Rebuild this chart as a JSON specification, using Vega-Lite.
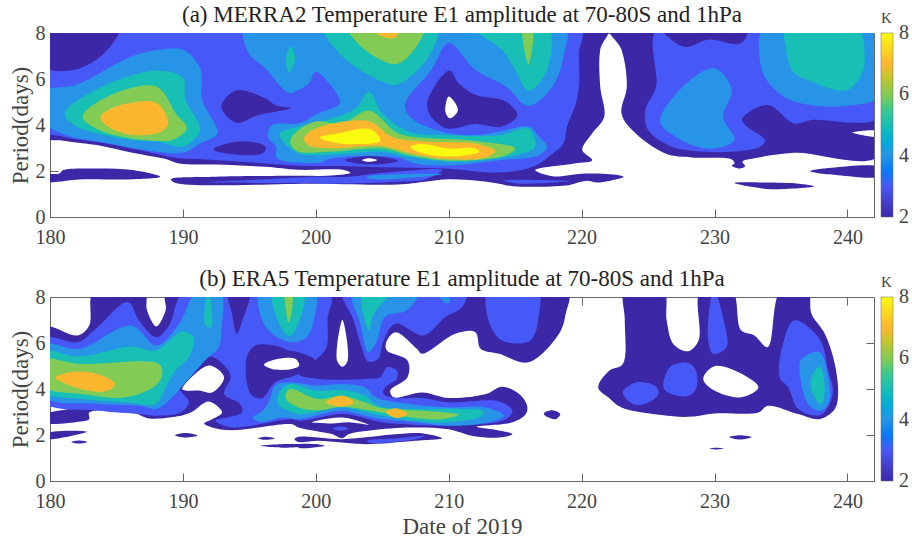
{"$schema":"https://vega.github.io/schema/vega-lite/v6.json","padding":{"left":9,"top":4,"right":5,"bottom":0},"background":"white","spacing":21,"config":{"view":{"stroke":null},"font":"Liberation Serif","title":{"font":"Liberation Serif","fontSize":23,"fontWeight":"normal","color":"#222222","offset":-16},"axis":{"labelFont":"Liberation Serif","titleFont":"Liberation Serif","labelFontSize":20,"titleFontSize":23,"titleFontWeight":"normal","labelColor":"#444444","titleColor":"#444444","domainColor":"#666666","tickColor":"#666666","grid":false,"tickSize":-8,"labelFlush":false},"axisX":{"labelPadding":18},"axisY":{"labelPadding":13},"legend":{"labelFont":"Liberation Serif","titleFont":"Liberation Serif"}},"resolve":{"scale":{"fill":"independent"},"legend":{"fill":"independent"}},"vconcat":[{"width":824,"height":184,"title":"(a) MERRA2 Temperature E1 amplitude at 70-80S and 1hPa","data":{"values":[
{"b":"a1","v":2,"x":179.5,"y":8.3},{"b":"a1","v":2,"x":222,"y":8.3},{"b":"a1","v":2,"x":221.4,"y":7.27},{"b":"a1","v":2,"x":221.4,"y":5.67},{"b":"a1","v":2,"x":221.7,"y":4.36},{"b":"a1","v":2,"x":220.8,"y":3.64},{"b":"a1","v":2,"x":220.05,"y":2.91},{"b":"a1","v":2,"x":220.8,"y":2.47},{"b":"a1","v":2,"x":219.5,"y":2.33},{"b":"a1","v":2,"x":216.5,"y":2.04},{"b":"a1","v":2,"x":217.8,"y":1.77},{"b":"a1","v":2,"x":220.3,"y":1.89},{"b":"a1","v":2,"x":222.8,"y":1.82},{"b":"a1","v":2,"x":223.16,"y":1.75},{"b":"a1","v":2,"x":221.25,"y":1.5},{"b":"a1","v":2,"x":220.3,"y":1.57},{"b":"a1","v":2,"x":218.8,"y":1.37},{"b":"a1","v":2,"x":214.8,"y":1.34},{"b":"a1","v":2,"x":213.8,"y":1.45},{"b":"a1","v":2,"x":212.3,"y":1.57},{"b":"a1","v":2,"x":210,"y":1.64},{"b":"a1","v":2,"x":208.2,"y":1.53},{"b":"a1","v":2,"x":206.2,"y":1.41},{"b":"a1","v":2,"x":200.2,"y":1.45},{"b":"a1","v":2,"x":189.45,"y":1.48},{"b":"a1","v":2,"x":189.1,"y":1.64},{"b":"a1","v":2,"x":192.45,"y":1.75},{"b":"a1","v":2,"x":198.7,"y":1.79},{"b":"a1","v":2,"x":201.2,"y":1.8},{"b":"a1","v":2,"x":202.6,"y":1.92},{"b":"a1","v":2,"x":202,"y":2.05},{"b":"a1","v":2,"x":198.7,"y":2.05},{"b":"a1","v":2,"x":196.2,"y":2.18},{"b":"a1","v":2,"x":192.45,"y":2.28},{"b":"a1","v":2,"x":189.7,"y":2.33},{"b":"a1","v":2,"x":188.7,"y":2.52},{"b":"a1","v":2,"x":186.2,"y":2.79},{"b":"a1","v":2,"x":183.7,"y":3.11},{"b":"a1","v":2,"x":181,"y":3.32},{"b":"a1","v":2,"x":179.5,"y":3.5},
{"b":"a2","v":2,"x":179.5,"y":1.56},{"b":"a2","v":2,"x":179.5,"y":1.83},{"b":"a2","v":2,"x":180.7,"y":1.89},{"b":"a2","v":2,"x":181,"y":2.04},{"b":"a2","v":2,"x":183.2,"y":2.11},{"b":"a2","v":2,"x":186.2,"y":2.04},{"b":"a2","v":2,"x":188.3,"y":1.75},{"b":"a2","v":2,"x":186.2,"y":1.64},{"b":"a2","v":2,"x":182.5,"y":1.64},
{"b":"a3","v":2,"x":237.2,"y":1.99},{"b":"a3","v":2,"x":238.8,"y":2.14},{"b":"a3","v":2,"x":242.5,"y":2.15},{"b":"a3","v":2,"x":242.5,"y":1.79},{"b":"a3","v":2,"x":239.3,"y":1.82},
{"b":"a4","v":2,"x":231.5,"y":1.48},{"b":"a4","v":2,"x":233.8,"y":1.5},{"b":"a4","v":2,"x":236.3,"y":1.45},{"b":"a4","v":2,"x":237.5,"y":1.34},{"b":"a4","v":2,"x":234.3,"y":1.21},{"b":"a4","v":2,"x":232.8,"y":1.31},
{"b":"a5","v":2,"x":222,"y":8.3},{"b":"a5","v":2,"x":223,"y":7.27},{"b":"a5","v":2,"x":223.4,"y":5.67},{"b":"a5","v":2,"x":223,"y":4.51},{"b":"a5","v":2,"x":223.8,"y":3.78},{"b":"a5","v":2,"x":226.3,"y":2.76},{"b":"a5","v":2,"x":228.3,"y":2.59},{"b":"a5","v":2,"x":231.3,"y":2.5},{"b":"a5","v":2,"x":231.5,"y":2.33},{"b":"a5","v":2,"x":231.3,"y":2.24},{"b":"a5","v":2,"x":231.9,"y":2.11},{"b":"a5","v":2,"x":232.3,"y":2.21},{"b":"a5","v":2,"x":232.1,"y":2.4},{"b":"a5","v":2,"x":233,"y":2.55},{"b":"a5","v":2,"x":236,"y":2.79},{"b":"a5","v":2,"x":242.5,"y":2.69},{"b":"a5","v":2,"x":242.5,"y":8.3},
{"b":"a6","v":3,"x":179.5,"y":8.3},{"b":"a6","v":3,"x":219.9,"y":8.3},{"b":"a6","v":3,"x":219.8,"y":7.13},{"b":"a6","v":3,"x":219.8,"y":5.67},{"b":"a6","v":3,"x":219.5,"y":4.8},{"b":"a6","v":3,"x":218.9,"y":3.93},{"b":"a6","v":3,"x":218.65,"y":3.2},{"b":"a6","v":3,"x":218,"y":2.84},{"b":"a6","v":3,"x":216.3,"y":2.18},{"b":"a6","v":3,"x":213.8,"y":1.93},{"b":"a6","v":3,"x":210,"y":2.1},{"b":"a6","v":3,"x":206.2,"y":2.15},{"b":"a6","v":3,"x":202.5,"y":2.21},{"b":"a6","v":3,"x":198.7,"y":2.23},{"b":"a6","v":3,"x":196.2,"y":2.33},{"b":"a6","v":3,"x":191.7,"y":2.5},{"b":"a6","v":3,"x":189.7,"y":2.55},{"b":"a6","v":3,"x":186.7,"y":2.91},{"b":"a6","v":3,"x":184.2,"y":3.2},{"b":"a6","v":3,"x":181,"y":3.49},{"b":"a6","v":3,"x":179.5,"y":3.78},
{"b":"a7","v":3,"x":225.8,"y":8.3},{"b":"a7","v":3,"x":225.6,"y":5.67},{"b":"a7","v":3,"x":224.8,"y":4.65},{"b":"a7","v":3,"x":225,"y":3.78},{"b":"a7","v":3,"x":226.8,"y":3.05},{"b":"a7","v":3,"x":228.3,"y":2.88},{"b":"a7","v":3,"x":231.3,"y":2.84},{"b":"a7","v":3,"x":233.5,"y":3.08},{"b":"a7","v":3,"x":233.8,"y":3.35},{"b":"a7","v":3,"x":232.3,"y":4},{"b":"a7","v":3,"x":232.1,"y":4.29},{"b":"a7","v":3,"x":234,"y":4.87},{"b":"a7","v":3,"x":236,"y":4.07},{"b":"a7","v":3,"x":237.3,"y":4.22},{"b":"a7","v":3,"x":242.5,"y":4.36},{"b":"a7","v":3,"x":242.5,"y":8.3},
{"b":"a8","v":2,"x":179.5,"y":8.3},{"b":"a8","v":2,"x":185.2,"y":8.3},{"b":"a8","v":2,"x":184.45,"y":7.35},{"b":"a8","v":2,"x":182.1,"y":6.44},{"b":"a8","v":2,"x":179.5,"y":6.55},
{"b":"a9","v":2,"x":225.9,"y":8.3},{"b":"a9","v":2,"x":226.9,"y":7.64},{"b":"a9","v":2,"x":227.9,"y":7.39},{"b":"a9","v":2,"x":229.5,"y":7.71},{"b":"a9","v":2,"x":232,"y":7.56},{"b":"a9","v":2,"x":232.5,"y":8.3},
{"b":"a10","v":2,"x":192.9,"y":4.8},{"b":"a10","v":2,"x":194,"y":5.5},{"b":"a10","v":2,"x":196.2,"y":5.16},{"b":"a10","v":2,"x":196.95,"y":4.87},{"b":"a10","v":2,"x":198.1,"y":4.73},{"b":"a10","v":2,"x":196.95,"y":4.58},{"b":"a10","v":2,"x":195.7,"y":4.44},{"b":"a10","v":2,"x":194,"y":4.1},
{"b":"a11","v":2,"x":192.3,"y":2.94},{"b":"a11","v":2,"x":194,"y":3.27},{"b":"a11","v":2,"x":195.95,"y":3.16},{"b":"a11","v":2,"x":196.25,"y":2.98},{"b":"a11","v":2,"x":195.95,"y":2.76},{"b":"a11","v":2,"x":193.7,"y":2.73},
{"b":"a12","v":2,"x":210.05,"y":6.37},{"b":"a12","v":2,"x":208.4,"y":5.02},{"b":"a12","v":2,"x":208.6,"y":4.44},{"b":"a12","v":2,"x":209.9,"y":3.85},{"b":"a12","v":2,"x":212,"y":4.04},{"b":"a12","v":2,"x":214,"y":3.93},{"b":"a12","v":2,"x":215.15,"y":4.44},{"b":"a12","v":2,"x":214.3,"y":5.02},{"b":"a12","v":2,"x":212,"y":5.31},{"b":"a12","v":2,"x":210.75,"y":5.82},
{"b":"a13","v":3,"x":191.7,"y":1.51},{"b":"a13","v":3,"x":196.2,"y":1.64},{"b":"a13","v":3,"x":200,"y":1.75},{"b":"a13","v":3,"x":202.5,"y":1.75},{"b":"a13","v":3,"x":205,"y":1.92},{"b":"a13","v":3,"x":209.5,"y":2.04},{"b":"a13","v":3,"x":208.2,"y":1.63},{"b":"a13","v":3,"x":206.2,"y":1.53},{"b":"a13","v":3,"x":201.2,"y":1.45},{"b":"a13","v":3,"x":198.7,"y":1.48},{"b":"a13","v":3,"x":196.2,"y":1.48},
{"b":"a14","v":3,"x":214.1,"y":1.59},{"b":"a14","v":3,"x":219.2,"y":1.56},{"b":"a14","v":3,"x":215.3,"y":1.45},
{"b":"a15","v":4,"x":203.85,"y":1.75},{"b":"a15","v":4,"x":206.2,"y":1.86},{"b":"a15","v":4,"x":209.5,"y":1.86},{"b":"a15","v":4,"x":207,"y":1.7},{"b":"a15","v":4,"x":204,"y":1.67},
{"b":"a16","v":4,"x":179.5,"y":5.45},{"b":"a16","v":4,"x":182,"y":5.75},{"b":"a16","v":4,"x":186,"y":6.95},{"b":"a16","v":4,"x":188.2,"y":7.27},{"b":"a16","v":4,"x":190,"y":7.27},{"b":"a16","v":4,"x":191.3,"y":6.47},{"b":"a16","v":4,"x":191.45,"y":5.09},{"b":"a16","v":4,"x":192.6,"y":3.64},{"b":"a16","v":4,"x":191.3,"y":3.2},{"b":"a16","v":4,"x":190,"y":2.79},{"b":"a16","v":4,"x":188,"y":2.84},{"b":"a16","v":4,"x":184.45,"y":3.2},{"b":"a16","v":4,"x":181.2,"y":3.56},{"b":"a16","v":4,"x":179.5,"y":4.15},
{"b":"a17","v":4,"x":194.7,"y":8.3},{"b":"a17","v":4,"x":218.7,"y":8.3},{"b":"a17","v":4,"x":218.7,"y":7.13},{"b":"a17","v":4,"x":217.8,"y":5.67},{"b":"a17","v":4,"x":216,"y":4.83},{"b":"a17","v":4,"x":214.3,"y":5.67},{"b":"a17","v":4,"x":212,"y":6.4},{"b":"a17","v":4,"x":210,"y":7.56},{"b":"a17","v":4,"x":208.7,"y":6.4},{"b":"a17","v":4,"x":206.7,"y":4.87},{"b":"a17","v":4,"x":207.2,"y":4.29},{"b":"a17","v":4,"x":209.5,"y":3.71},{"b":"a17","v":4,"x":211.8,"y":3.56},{"b":"a17","v":4,"x":213.8,"y":3.71},{"b":"a17","v":4,"x":216,"y":3.93},{"b":"a17","v":4,"x":216.8,"y":3.49},{"b":"a17","v":4,"x":217.4,"y":3.05},{"b":"a17","v":4,"x":216.8,"y":2.69},{"b":"a17","v":4,"x":213.8,"y":2.47},{"b":"a17","v":4,"x":210,"y":2.24},{"b":"a17","v":4,"x":207.5,"y":2.33},{"b":"a17","v":4,"x":206.2,"y":2.59},{"b":"a17","v":4,"x":203.7,"y":2.65},{"b":"a17","v":4,"x":201.2,"y":2.55},{"b":"a17","v":4,"x":200.2,"y":2.37},{"b":"a17","v":4,"x":197.1,"y":2.55},{"b":"a17","v":4,"x":197,"y":3.05},{"b":"a17","v":4,"x":196.4,"y":3.49},{"b":"a17","v":4,"x":196.7,"y":4},{"b":"a17","v":4,"x":198.7,"y":4.07},{"b":"a17","v":4,"x":200.2,"y":4.51},{"b":"a17","v":4,"x":201.8,"y":4.95},{"b":"a17","v":4,"x":201.2,"y":5.67},{"b":"a17","v":4,"x":199.95,"y":6.33},{"b":"a17","v":4,"x":199.5,"y":5.82},{"b":"a17","v":4,"x":198.7,"y":5.53},{"b":"a17","v":4,"x":198,"y":5.38},{"b":"a17","v":4,"x":196.2,"y":6.47},{"b":"a17","v":4,"x":194.95,"y":7.13},
{"b":"a18","v":4,"x":233.8,"y":8.3},{"b":"a18","v":4,"x":233.5,"y":6.55},{"b":"a18","v":4,"x":234.3,"y":5.67},{"b":"a18","v":4,"x":236,"y":5.02},{"b":"a18","v":4,"x":239.8,"y":4.83},{"b":"a18","v":4,"x":242.5,"y":5.3},{"b":"a18","v":4,"x":242.5,"y":8.3},
{"b":"a19","v":4,"x":230,"y":6.47},{"b":"a19","v":4,"x":231.3,"y":5.53},{"b":"a19","v":4,"x":230.65,"y":4.36},{"b":"a19","v":4,"x":231.5,"y":3.35},{"b":"a19","v":4,"x":230,"y":2.98},{"b":"a19","v":4,"x":228.3,"y":3.13},{"b":"a19","v":4,"x":226,"y":4},{"b":"a19","v":4,"x":226,"y":4.44},{"b":"a19","v":4,"x":227.9,"y":5.82},
{"b":"a20","v":5,"x":181.1,"y":4.5},{"b":"a20","v":5,"x":183.45,"y":5.53},{"b":"a20","v":5,"x":188,"y":6.37},{"b":"a20","v":5,"x":190,"y":6.04},{"b":"a20","v":5,"x":190.2,"y":5.09},{"b":"a20","v":5,"x":191.3,"y":3.78},{"b":"a20","v":5,"x":190,"y":3.05},{"b":"a20","v":5,"x":188.2,"y":3.27},{"b":"a20","v":5,"x":186,"y":3.35},{"b":"a20","v":5,"x":182,"y":3.93},
{"b":"a21","v":5,"x":200.6,"y":8.3},{"b":"a21","v":5,"x":202,"y":6.98},{"b":"a21","v":5,"x":205,"y":5.89},{"b":"a21","v":5,"x":206.1,"y":5.75},{"b":"a21","v":5,"x":208.5,"y":6.98},{"b":"a21","v":5,"x":209.1,"y":8.3},
{"b":"a22","v":5,"x":198.1,"y":7.42},{"b":"a22","v":5,"x":198.45,"y":6.9},{"b":"a22","v":5,"x":198,"y":6.28},{"b":"a22","v":5,"x":197.75,"y":6.84},
{"b":"a23","v":5,"x":211.7,"y":8.3},{"b":"a23","v":5,"x":214,"y":7.27},{"b":"a23","v":5,"x":215,"y":6.4},{"b":"a23","v":5,"x":216,"y":5.48},{"b":"a23","v":5,"x":217.4,"y":6.4},{"b":"a23","v":5,"x":217.4,"y":8.3},
{"b":"a24","v":5,"x":235.4,"y":8.3},{"b":"a24","v":5,"x":235.4,"y":7.27},{"b":"a24","v":5,"x":235.9,"y":6.33},{"b":"a24","v":5,"x":237.3,"y":5.89},{"b":"a24","v":5,"x":239.9,"y":5.5},{"b":"a24","v":5,"x":241.05,"y":6.18},{"b":"a24","v":5,"x":241.3,"y":6.98},{"b":"a24","v":5,"x":240.7,"y":8.3},
{"b":"a25","v":5,"x":197.3,"y":3.64},{"b":"a25","v":5,"x":198.7,"y":3.93},{"b":"a25","v":5,"x":201.2,"y":4.29},{"b":"a25","v":5,"x":203,"y":4.73},{"b":"a25","v":5,"x":204,"y":5.45},{"b":"a25","v":5,"x":205,"y":4.51},{"b":"a25","v":5,"x":207,"y":3.71},{"b":"a25","v":5,"x":209.75,"y":3.56},{"b":"a25","v":5,"x":213.8,"y":3.55},{"b":"a25","v":5,"x":216,"y":3.85},{"b":"a25","v":5,"x":216.5,"y":3.35},{"b":"a25","v":5,"x":216.4,"y":2.98},{"b":"a25","v":5,"x":215,"y":2.69},{"b":"a25","v":5,"x":212.5,"y":2.47},{"b":"a25","v":5,"x":210,"y":2.4},{"b":"a25","v":5,"x":207,"y":2.62},{"b":"a25","v":5,"x":205,"y":2.84},{"b":"a25","v":5,"x":202.5,"y":2.76},{"b":"a25","v":5,"x":200,"y":2.69},{"b":"a25","v":5,"x":198.7,"y":2.76},{"b":"a25","v":5,"x":197.45,"y":3.35},
{"b":"a26","v":6,"x":182.45,"y":4.36},{"b":"a26","v":6,"x":184.2,"y":5.2},{"b":"a26","v":6,"x":188,"y":5.67},{"b":"a26","v":6,"x":189.45,"y":4.51},{"b":"a26","v":6,"x":190.3,"y":3.85},{"b":"a26","v":6,"x":189.2,"y":3.35},{"b":"a26","v":6,"x":187.7,"y":3.32},{"b":"a26","v":6,"x":186,"y":3.42},{"b":"a26","v":6,"x":183.7,"y":3.78},
{"b":"a27","v":6,"x":202.4,"y":8.3},{"b":"a27","v":6,"x":203.7,"y":7.27},{"b":"a27","v":6,"x":206,"y":6.65},{"b":"a27","v":6,"x":207.2,"y":7.13},{"b":"a27","v":6,"x":208.1,"y":8.3},
{"b":"a28","v":6,"x":215.6,"y":8.3},{"b":"a28","v":6,"x":216,"y":6.62},{"b":"a28","v":6,"x":216.3,"y":8.3},
{"b":"a29","v":6,"x":198.1,"y":3.35},{"b":"a29","v":6,"x":198.7,"y":3.78},{"b":"a29","v":6,"x":200,"y":4.15},{"b":"a29","v":6,"x":202,"y":4.07},{"b":"a29","v":6,"x":204,"y":4.63},{"b":"a29","v":6,"x":206.2,"y":3.64},{"b":"a29","v":6,"x":208.7,"y":3.42},{"b":"a29","v":6,"x":211.3,"y":3.35},{"b":"a29","v":6,"x":215,"y":2.98},{"b":"a29","v":6,"x":214.3,"y":2.69},{"b":"a29","v":6,"x":211.8,"y":2.47},{"b":"a29","v":6,"x":209.5,"y":2.47},{"b":"a29","v":6,"x":207,"y":2.69},{"b":"a29","v":6,"x":205,"y":2.98},{"b":"a29","v":6,"x":201.2,"y":2.84},{"b":"a29","v":6,"x":198.7,"y":2.84},{"b":"a29","v":6,"x":198.2,"y":3.05},
{"b":"a30","v":7,"x":183.8,"y":4.36},{"b":"a30","v":7,"x":184.95,"y":4.8},{"b":"a30","v":7,"x":185.95,"y":4.95},{"b":"a30","v":7,"x":188,"y":4.97},{"b":"a30","v":7,"x":188.9,"y":4.07},{"b":"a30","v":7,"x":188.2,"y":3.67},{"b":"a30","v":7,"x":185.95,"y":3.59},{"b":"a30","v":7,"x":184.2,"y":4},
{"b":"a31","v":7,"x":199.1,"y":3.42},{"b":"a31","v":7,"x":200,"y":3.85},{"b":"a31","v":7,"x":204,"y":4.17},{"b":"a31","v":7,"x":205.7,"y":3.49},{"b":"a31","v":7,"x":208.7,"y":3.27},{"b":"a31","v":7,"x":212,"y":3.2},{"b":"a31","v":7,"x":213.5,"y":2.87},{"b":"a31","v":7,"x":212.8,"y":2.59},{"b":"a31","v":7,"x":209.75,"y":2.52},{"b":"a31","v":7,"x":207.2,"y":2.76},{"b":"a31","v":7,"x":205,"y":3.08},{"b":"a31","v":7,"x":201.2,"y":2.98},{"b":"a31","v":7,"x":199.4,"y":3.13},
{"b":"a32","v":7,"x":204,"y":8.3},{"b":"a32","v":7,"x":206.2,"y":8.3},{"b":"a32","v":7,"x":206,"y":7.81},{"b":"a32","v":7,"x":205,"y":7.85},
{"b":"a33","v":8,"x":200.3,"y":3.46},{"b":"a33","v":8,"x":201.7,"y":3.64},{"b":"a33","v":8,"x":204.1,"y":3.81},{"b":"a33","v":8,"x":204.85,"y":3.32},{"b":"a33","v":8,"x":203.2,"y":3.17},{"b":"a33","v":8,"x":201.5,"y":3.23},
{"b":"a34","v":8,"x":207.1,"y":3.05},{"b":"a34","v":8,"x":208,"y":3.17},{"b":"a34","v":8,"x":210,"y":2.98},{"b":"a34","v":8,"x":212,"y":2.98},{"b":"a34","v":8,"x":212.3,"y":2.84},{"b":"a34","v":8,"x":211.3,"y":2.69},{"b":"a34","v":8,"x":209.2,"y":2.65},{"b":"a34","v":8,"x":207.7,"y":2.84},
{"b":"a35","v":2,"x":202.2,"y":2.47},{"b":"a35","v":2,"x":204,"y":2.65},{"b":"a35","v":2,"x":206.2,"y":2.44},{"b":"a35","v":2,"x":204,"y":2.28},
{"b":"a36","v":0,"x":203.5,"y":2.47},{"b":"a36","v":0,"x":204,"y":2.55},{"b":"a36","v":0,"x":204.6,"y":2.47},{"b":"a36","v":0,"x":204,"y":2.4},
{"b":"a37","v":0,"x":210,"y":5.24},{"b":"a37","v":0,"x":210.7,"y":4.65},{"b":"a37","v":0,"x":210.1,"y":4.29},{"b":"a37","v":0,"x":209.75,"y":4.58},
{"b":"a38","v":0,"x":240.35,"y":3.67},{"b":"a38","v":0,"x":242.5,"y":3.72},{"b":"a38","v":0,"x":242.5,"y":3.5}
]},"transform":[{"window":[{"op":"row_number","as":"i"}]}],"resolve":{"axis":{"x":"independent","y":"independent"}},"layer":[{"mark":{"type":"line","interpolate":"catmull-rom-closed","strokeWidth":0,"clip":true},"encoding":{"x":{"field":"x","type":"quantitative","scale":{"domain":[180,242],"nice":false},"axis":{"title":null,"values":[180,190,200,210,220,230,240],"format":"d"}},"y":{"field":"y","type":"quantitative","scale":{"domain":[0,8],"nice":false},"axis":{"title":"Period(days)","values":[0,2,4,6,8],"titlePadding":3}},"detail":{"field":"b"},"order":{"field":"i","type":"quantitative"},"fill":{"condition":{"test":"datum.v===0","value":"white"},"field":"v","type":"quantitative","scale":{"domain":[2,3,4,5,6,7,8],"range":["#3c27a6","#4658f6","#2794e8","#17bfb5","#82cc55","#fdb72e","#fbfb10"]},"legend":{"orient":"none","legendX":831,"legendY":-22,"title":"K","titleFontSize":15,"titleFontWeight":"normal","titleColor":"#444444","titlePadding":7,"gradientLength":184,"gradientThickness":12,"gradientStrokeColor":"#666666","gradientStrokeWidth":0.5,"values":[2,4,6,8],"labelFontSize":20,"labelColor":"#444444","labelOffset":6,"labelOverlap":false,"encode":{"labels":{"update":{"baseline":{"value":"middle"}}}}}}}},{"mark":{"type":"line","opacity":0,"strokeWidth":0},"encoding":{"x":{"field":"x","type":"quantitative","scale":{"domain":[180,242],"nice":false},"axis":{"orient":"top","title":null,"labels":false,"values":[180,190,200,210,220,230,240]}},"y":{"field":"y","type":"quantitative","scale":{"domain":[0,8],"nice":false},"axis":{"orient":"right","title":null,"labels":false,"values":[0,2,4,6,8]}},"detail":{"field":"b"}}}]},
{"width":824,"height":184,"title":"(b) ERA5 Temperature E1 amplitude at 70-80S and 1hPa","data":{"values":[
{"b":"b1","v":2,"x":179.5,"y":6.68},{"b":"b1","v":2,"x":182.1,"y":6.33},{"b":"b1","v":2,"x":182.95,"y":6.76},{"b":"b1","v":2,"x":183.3,"y":8.3},{"b":"b1","v":2,"x":187.1,"y":8.3},{"b":"b1","v":2,"x":187.3,"y":7.42},{"b":"b1","v":2,"x":188,"y":6.72},{"b":"b1","v":2,"x":188.7,"y":7.42},{"b":"b1","v":2,"x":188.8,"y":8.3},{"b":"b1","v":2,"x":218.9,"y":8.3},{"b":"b1","v":2,"x":218.8,"y":7.27},{"b":"b1","v":2,"x":218.3,"y":6.4},{"b":"b1","v":2,"x":216,"y":5.16},{"b":"b1","v":2,"x":213.8,"y":5.53},{"b":"b1","v":2,"x":212.4,"y":5.75},{"b":"b1","v":2,"x":212,"y":6.47},{"b":"b1","v":2,"x":210.5,"y":6.4},{"b":"b1","v":2,"x":208,"y":5.53},{"b":"b1","v":2,"x":207.6,"y":5.75},{"b":"b1","v":2,"x":206,"y":6.47},{"b":"b1","v":2,"x":205.3,"y":6.04},{"b":"b1","v":2,"x":205.35,"y":5.67},{"b":"b1","v":2,"x":206.9,"y":5.24},{"b":"b1","v":2,"x":206.9,"y":4.51},{"b":"b1","v":2,"x":205.6,"y":3.93},{"b":"b1","v":2,"x":205.85,"y":3.64},{"b":"b1","v":2,"x":208,"y":3.85},{"b":"b1","v":2,"x":210,"y":3.61},{"b":"b1","v":2,"x":212.8,"y":3.78},{"b":"b1","v":2,"x":214,"y":4.1},{"b":"b1","v":2,"x":215.3,"y":3.78},{"b":"b1","v":2,"x":215.9,"y":3.27},{"b":"b1","v":2,"x":215.8,"y":2.91},{"b":"b1","v":2,"x":214.8,"y":2.55},{"b":"b1","v":2,"x":212.1,"y":2.36},{"b":"b1","v":2,"x":213.5,"y":2.23},{"b":"b1","v":2,"x":214.8,"y":2.04},{"b":"b1","v":2,"x":213.8,"y":1.89},{"b":"b1","v":2,"x":211.8,"y":1.96},{"b":"b1","v":2,"x":210,"y":2.25},{"b":"b1","v":2,"x":207.2,"y":2.33},{"b":"b1","v":2,"x":204.2,"y":2.21},{"b":"b1","v":2,"x":202.5,"y":2.04},{"b":"b1","v":2,"x":202,"y":1.86},{"b":"b1","v":2,"x":201.2,"y":2.04},{"b":"b1","v":2,"x":198.7,"y":2.33},{"b":"b1","v":2,"x":198.2,"y":2.47},{"b":"b1","v":2,"x":193.7,"y":2.21},{"b":"b1","v":2,"x":192.2,"y":2.33},{"b":"b1","v":2,"x":191.6,"y":2.5},{"b":"b1","v":2,"x":192.2,"y":2.69},{"b":"b1","v":2,"x":192.95,"y":2.98},{"b":"b1","v":2,"x":191.95,"y":3.46},{"b":"b1","v":2,"x":190.6,"y":2.98},{"b":"b1","v":2,"x":189.6,"y":2.81},{"b":"b1","v":2,"x":187.45,"y":2.72},{"b":"b1","v":2,"x":186.2,"y":2.98},{"b":"b1","v":2,"x":182.95,"y":2.98},{"b":"b1","v":2,"x":182.95,"y":2.69},{"b":"b1","v":2,"x":182.3,"y":2.59},{"b":"b1","v":2,"x":179.5,"y":2.55},{"b":"b1","v":2,"x":179.5,"y":2.87},{"b":"b1","v":2,"x":181.8,"y":3.2},{"b":"b1","v":2,"x":179.5,"y":3.4},
{"b":"b2","v":2,"x":179.5,"y":2.02},{"b":"b2","v":2,"x":181.2,"y":2.18},{"b":"b2","v":2,"x":182.8,"y":2.14},{"b":"b2","v":2,"x":182.4,"y":2.07},{"b":"b2","v":2,"x":179.5,"y":1.83},
{"b":"b3","v":2,"x":181.6,"y":1.7},{"b":"b3","v":2,"x":182.2,"y":1.76},{"b":"b3","v":2,"x":182.8,"y":1.7},{"b":"b3","v":2,"x":182.2,"y":1.63},
{"b":"b4","v":2,"x":189.4,"y":1.99},{"b":"b4","v":2,"x":190.2,"y":2.09},{"b":"b4","v":2,"x":191.1,"y":1.98},{"b":"b4","v":2,"x":190.2,"y":1.89},
{"b":"b5","v":2,"x":195.65,"y":1.85},{"b":"b5","v":2,"x":196.2,"y":1.92},{"b":"b5","v":2,"x":196.9,"y":1.85},{"b":"b5","v":2,"x":196.2,"y":1.79},
{"b":"b6","v":2,"x":195.8,"y":1.53},{"b":"b6","v":2,"x":197.45,"y":1.6},{"b":"b6","v":2,"x":200.2,"y":1.57},{"b":"b6","v":2,"x":197.45,"y":1.45},
{"b":"b7","v":2,"x":198.4,"y":1.82},{"b":"b7","v":2,"x":198.7,"y":1.92},{"b":"b7","v":2,"x":202,"y":1.82},{"b":"b7","v":2,"x":206.2,"y":2.04},{"b":"b7","v":2,"x":208.1,"y":2.07},{"b":"b7","v":2,"x":209.5,"y":1.86},{"b":"b7","v":2,"x":207.5,"y":1.75},{"b":"b7","v":2,"x":203.7,"y":1.6},{"b":"b7","v":2,"x":202,"y":1.67},{"b":"b7","v":2,"x":200.2,"y":1.75},{"b":"b7","v":2,"x":198.7,"y":1.7},
{"b":"b8","v":2,"x":198.7,"y":1.57},{"b":"b8","v":2,"x":200,"y":1.6},{"b":"b8","v":2,"x":200.7,"y":1.53},{"b":"b8","v":2,"x":199.7,"y":1.45},{"b":"b8","v":2,"x":198.7,"y":1.45},
{"b":"b9","v":2,"x":217.15,"y":2.94},{"b":"b9","v":2,"x":217.8,"y":3.08},{"b":"b9","v":2,"x":218.4,"y":2.91},{"b":"b9","v":2,"x":218.05,"y":2.69},{"b":"b9","v":2,"x":217.4,"y":2.79},
{"b":"b10","v":2,"x":221.25,"y":4.07},{"b":"b10","v":2,"x":222.1,"y":4.8},{"b":"b10","v":2,"x":223.1,"y":5.09},{"b":"b10","v":2,"x":223.25,"y":6.98},{"b":"b10","v":2,"x":223.25,"y":8.3},{"b":"b10","v":2,"x":226.15,"y":8.3},{"b":"b10","v":2,"x":226.4,"y":6.98},{"b":"b10","v":2,"x":226.9,"y":5.96},{"b":"b10","v":2,"x":228,"y":5.64},{"b":"b10","v":2,"x":228.8,"y":6.11},{"b":"b10","v":2,"x":228.95,"y":8.3},{"b":"b10","v":2,"x":231.3,"y":8.3},{"b":"b10","v":2,"x":232,"y":6.55},{"b":"b10","v":2,"x":233,"y":6.33},{"b":"b10","v":2,"x":234,"y":5.82},{"b":"b10","v":2,"x":235,"y":8.3},{"b":"b10","v":2,"x":237,"y":8.3},{"b":"b10","v":2,"x":237.3,"y":7.27},{"b":"b10","v":2,"x":238.3,"y":6.4},{"b":"b10","v":2,"x":239.05,"y":5.09},{"b":"b10","v":2,"x":239.3,"y":3.78},{"b":"b10","v":2,"x":239.05,"y":3.13},{"b":"b10","v":2,"x":237.9,"y":2.69},{"b":"b10","v":2,"x":236.3,"y":2.91},{"b":"b10","v":2,"x":234,"y":3.27},{"b":"b10","v":2,"x":233.3,"y":2.98},{"b":"b10","v":2,"x":230,"y":2.94},{"b":"b10","v":2,"x":228,"y":2.79},{"b":"b10","v":2,"x":226,"y":2.87},{"b":"b10","v":2,"x":223,"y":3.2},{"b":"b10","v":2,"x":222,"y":3.64},
{"b":"b11","v":2,"x":231.1,"y":1.91},{"b":"b11","v":2,"x":231.9,"y":1.99},{"b":"b11","v":2,"x":232.8,"y":1.91},{"b":"b11","v":2,"x":231.9,"y":1.8},
{"b":"b12","v":2,"x":229.6,"y":1.41},{"b":"b12","v":2,"x":230.15,"y":1.45},{"b":"b12","v":2,"x":230.7,"y":1.41},{"b":"b12","v":2,"x":230.15,"y":1.37},
{"b":"b13","v":3,"x":179.5,"y":6.2},{"b":"b13","v":3,"x":182.1,"y":6.04},{"b":"b13","v":3,"x":183.45,"y":6.62},{"b":"b13","v":3,"x":185.85,"y":7.78},{"b":"b13","v":3,"x":186.7,"y":6.98},{"b":"b13","v":3,"x":188,"y":6.25},{"b":"b13","v":3,"x":188.95,"y":6.76},{"b":"b13","v":3,"x":190.2,"y":8.3},{"b":"b13","v":3,"x":200.7,"y":8.3},{"b":"b13","v":3,"x":201.2,"y":7.93},{"b":"b13","v":3,"x":200.9,"y":7.13},{"b":"b13","v":3,"x":200.8,"y":5.82},{"b":"b13","v":3,"x":199.95,"y":5.24},{"b":"b13","v":3,"x":198.7,"y":4.65},{"b":"b13","v":3,"x":200.2,"y":4.44},{"b":"b13","v":3,"x":203.7,"y":4.44},{"b":"b13","v":3,"x":204.85,"y":4.51},{"b":"b13","v":3,"x":205.35,"y":4.95},{"b":"b13","v":3,"x":206.1,"y":4.8},{"b":"b13","v":3,"x":206.1,"y":4.44},{"b":"b13","v":3,"x":205.2,"y":4.07},{"b":"b13","v":3,"x":205.1,"y":3.78},{"b":"b13","v":3,"x":206,"y":3.61},{"b":"b13","v":3,"x":208,"y":3.61},{"b":"b13","v":3,"x":210,"y":3.42},{"b":"b13","v":3,"x":213.8,"y":3.46},{"b":"b13","v":3,"x":214.8,"y":3.05},{"b":"b13","v":3,"x":214.3,"y":2.69},{"b":"b13","v":3,"x":211.8,"y":2.44},{"b":"b13","v":3,"x":207.5,"y":2.44},{"b":"b13","v":3,"x":205,"y":2.55},{"b":"b13","v":3,"x":204,"y":2.69},{"b":"b13","v":3,"x":202,"y":2.91},{"b":"b13","v":3,"x":199.7,"y":2.69},{"b":"b13","v":3,"x":198.7,"y":2.62},{"b":"b13","v":3,"x":198.2,"y":2.69},{"b":"b13","v":3,"x":193.7,"y":2.33},{"b":"b13","v":3,"x":192.45,"y":2.62},{"b":"b13","v":3,"x":194.45,"y":2.98},{"b":"b13","v":3,"x":194.3,"y":3.35},{"b":"b13","v":3,"x":193.1,"y":3.78},{"b":"b13","v":3,"x":193.6,"y":4.51},{"b":"b13","v":3,"x":193.1,"y":5.02},{"b":"b13","v":3,"x":191.95,"y":5.41},{"b":"b13","v":3,"x":189.7,"y":4.13},{"b":"b13","v":3,"x":190.45,"y":3.42},{"b":"b13","v":3,"x":189.8,"y":2.98},{"b":"b13","v":3,"x":188,"y":2.84},{"b":"b13","v":3,"x":186.7,"y":2.91},{"b":"b13","v":3,"x":183.7,"y":3.05},{"b":"b13","v":3,"x":179.5,"y":3.46},
{"b":"b14","v":3,"x":202.05,"y":8.3},{"b":"b14","v":3,"x":211.3,"y":8.3},{"b":"b14","v":3,"x":211,"y":7.56},{"b":"b14","v":3,"x":209.75,"y":7.13},{"b":"b14","v":3,"x":208.1,"y":6.33},{"b":"b14","v":3,"x":206,"y":6.84},{"b":"b14","v":3,"x":205.1,"y":6.11},{"b":"b14","v":3,"x":204.7,"y":5.31},{"b":"b14","v":3,"x":203.95,"y":5.19},{"b":"b14","v":3,"x":203.45,"y":5.82},{"b":"b14","v":3,"x":202.85,"y":6.98},
{"b":"b15","v":3,"x":213,"y":8.3},{"b":"b15","v":3,"x":213,"y":6.98},{"b":"b15","v":3,"x":214,"y":6.11},{"b":"b15","v":3,"x":216.15,"y":6.11},{"b":"b15","v":3,"x":216.8,"y":7.27},{"b":"b15","v":3,"x":216.7,"y":8.3},
{"b":"b16","v":3,"x":203.85,"y":1.75},{"b":"b16","v":3,"x":206.2,"y":1.86},{"b":"b16","v":3,"x":208.2,"y":1.96},{"b":"b16","v":3,"x":207.5,"y":1.82},{"b":"b16","v":3,"x":204,"y":1.67},
{"b":"b17","v":3,"x":201.3,"y":2.28},{"b":"b17","v":3,"x":201.9,"y":2.37},{"b":"b17","v":3,"x":202.45,"y":2.28},{"b":"b17","v":3,"x":201.9,"y":2.18},
{"b":"b18","v":3,"x":223.1,"y":3.85},{"b":"b18","v":3,"x":224.1,"y":4.29},{"b":"b18","v":3,"x":225.5,"y":4.15},{"b":"b18","v":3,"x":225.8,"y":3.85},{"b":"b18","v":3,"x":225.3,"y":3.49},{"b":"b18","v":3,"x":224,"y":3.32},
{"b":"b19","v":3,"x":226.2,"y":4},{"b":"b19","v":3,"x":226.65,"y":4.95},{"b":"b19","v":3,"x":228,"y":5.13},{"b":"b19","v":3,"x":228.6,"y":4.8},{"b":"b19","v":3,"x":228.6,"y":4},{"b":"b19","v":3,"x":227.9,"y":3.68},
{"b":"b20","v":3,"x":229.95,"y":8.3},{"b":"b20","v":3,"x":229.5,"y":6.25},{"b":"b20","v":3,"x":229.9,"y":5.53},{"b":"b20","v":3,"x":230.9,"y":5.82},{"b":"b20","v":3,"x":230.7,"y":6.98},
{"b":"b21","v":3,"x":236,"y":6.98},{"b":"b21","v":3,"x":237.9,"y":6.18},{"b":"b21","v":3,"x":238.55,"y":4.8},{"b":"b21","v":3,"x":238.9,"y":3.78},{"b":"b21","v":3,"x":238,"y":2.87},{"b":"b21","v":3,"x":236.3,"y":3.13},{"b":"b21","v":3,"x":235.55,"y":4.07},{"b":"b21","v":3,"x":234.9,"y":4.51},{"b":"b21","v":3,"x":235.15,"y":5.96},
{"b":"b22","v":2,"x":193.4,"y":8.3},{"b":"b22","v":2,"x":193.7,"y":7.27},{"b":"b22","v":2,"x":194.05,"y":6.4},{"b":"b22","v":2,"x":194.45,"y":6.95},{"b":"b22","v":2,"x":195,"y":8.3},
{"b":"b23","v":2,"x":194.8,"y":5.38},{"b":"b23","v":2,"x":195.45,"y":5.89},{"b":"b23","v":2,"x":196.95,"y":5.89},{"b":"b23","v":2,"x":198,"y":5.67},{"b":"b23","v":2,"x":198.7,"y":5.6},{"b":"b23","v":2,"x":199.95,"y":5.24},{"b":"b23","v":2,"x":198.7,"y":4.65},{"b":"b23","v":2,"x":196.95,"y":4.29},{"b":"b23","v":2,"x":195.95,"y":3.6},{"b":"b23","v":2,"x":195.1,"y":3.78},
{"b":"b24","v":4,"x":179.5,"y":5.92},{"b":"b24","v":4,"x":182.2,"y":5.75},{"b":"b24","v":4,"x":186.1,"y":6.76},{"b":"b24","v":4,"x":188,"y":5.89},{"b":"b24","v":4,"x":189.7,"y":6.83},{"b":"b24","v":4,"x":191.1,"y":8.3},{"b":"b24","v":4,"x":192.8,"y":8.3},{"b":"b24","v":4,"x":192.9,"y":6.55},{"b":"b24","v":4,"x":192.7,"y":5.82},{"b":"b24","v":4,"x":191.8,"y":5.31},{"b":"b24","v":4,"x":190,"y":4.15},{"b":"b24","v":4,"x":188.8,"y":3.42},{"b":"b24","v":4,"x":188,"y":3.13},{"b":"b24","v":4,"x":186.7,"y":3.27},{"b":"b24","v":4,"x":183.7,"y":3.35},{"b":"b24","v":4,"x":179.5,"y":3.7},
{"b":"b25","v":4,"x":195.8,"y":8.3},{"b":"b25","v":4,"x":195.8,"y":7.27},{"b":"b25","v":4,"x":196.45,"y":6.55},{"b":"b25","v":4,"x":198,"y":6.04},{"b":"b25","v":4,"x":199.3,"y":6.25},{"b":"b25","v":4,"x":199.9,"y":7.13},{"b":"b25","v":4,"x":199.9,"y":8.3},
{"b":"b26","v":4,"x":202.75,"y":8.3},{"b":"b26","v":4,"x":203.35,"y":6.84},{"b":"b26","v":4,"x":203.95,"y":5.6},{"b":"b26","v":4,"x":204.6,"y":6.11},{"b":"b26","v":4,"x":205.2,"y":7.13},{"b":"b26","v":4,"x":206.85,"y":7.42},{"b":"b26","v":4,"x":207.8,"y":8.3},
{"b":"b27","v":4,"x":209,"y":8.3},{"b":"b27","v":4,"x":209.75,"y":7.74},{"b":"b27","v":4,"x":210,"y":7.74},{"b":"b27","v":4,"x":210,"y":8.3},
{"b":"b28","v":4,"x":195.25,"y":2.76},{"b":"b28","v":4,"x":196,"y":3.05},{"b":"b28","v":4,"x":196.5,"y":3.49},{"b":"b28","v":4,"x":196.95,"y":4.15},{"b":"b28","v":4,"x":198.1,"y":4.29},{"b":"b28","v":4,"x":199.95,"y":4.15},{"b":"b28","v":4,"x":202,"y":4.22},{"b":"b28","v":4,"x":203.7,"y":4.07},{"b":"b28","v":4,"x":204.5,"y":3.64},{"b":"b28","v":4,"x":207.5,"y":3.32},{"b":"b28","v":4,"x":210,"y":3.2},{"b":"b28","v":4,"x":212.8,"y":3.2},{"b":"b28","v":4,"x":214.15,"y":2.84},{"b":"b28","v":4,"x":213,"y":2.55},{"b":"b28","v":4,"x":210,"y":2.4},{"b":"b28","v":4,"x":207.5,"y":2.55},{"b":"b28","v":4,"x":204.2,"y":2.76},{"b":"b28","v":4,"x":202,"y":3.05},{"b":"b28","v":4,"x":199.45,"y":2.76},{"b":"b28","v":4,"x":198.7,"y":2.69},{"b":"b28","v":4,"x":197.45,"y":2.76},{"b":"b28","v":4,"x":195.95,"y":2.57},
{"b":"b29","v":4,"x":236.55,"y":5.31},{"b":"b29","v":4,"x":237.9,"y":5.6},{"b":"b29","v":4,"x":238.55,"y":4.51},{"b":"b29","v":4,"x":238.65,"y":3.49},{"b":"b29","v":4,"x":238,"y":3.05},{"b":"b29","v":4,"x":237.05,"y":3.35},{"b":"b29","v":4,"x":236.4,"y":4.8},
{"b":"b30","v":5,"x":179.5,"y":5.63},{"b":"b30","v":5,"x":182.2,"y":5.41},{"b":"b30","v":5,"x":186.1,"y":5.85},{"b":"b30","v":5,"x":187.95,"y":5.67},{"b":"b30","v":5,"x":189.95,"y":6.5},{"b":"b30","v":5,"x":190.8,"y":6.25},{"b":"b30","v":5,"x":190.45,"y":5.38},{"b":"b30","v":5,"x":189.45,"y":4.8},{"b":"b30","v":5,"x":188.7,"y":4.07},{"b":"b30","v":5,"x":187.95,"y":3.35},{"b":"b30","v":5,"x":185.7,"y":3.42},{"b":"b30","v":5,"x":182.45,"y":3.56},{"b":"b30","v":5,"x":179.5,"y":3.9},
{"b":"b31","v":5,"x":191.9,"y":8.3},{"b":"b31","v":5,"x":192.2,"y":6.84},{"b":"b31","v":5,"x":192,"y":6.66},{"b":"b31","v":5,"x":191.65,"y":6.84},
{"b":"b32","v":5,"x":196.8,"y":8.3},{"b":"b32","v":5,"x":196.95,"y":7.27},{"b":"b32","v":5,"x":198,"y":6.3},{"b":"b32","v":5,"x":198.95,"y":7.27},{"b":"b32","v":5,"x":199.05,"y":8.3},
{"b":"b33","v":5,"x":203.5,"y":8.3},{"b":"b33","v":5,"x":204,"y":6.55},{"b":"b33","v":5,"x":204.35,"y":7.27},{"b":"b33","v":5,"x":205.7,"y":8.3},
{"b":"b34","v":5,"x":197.15,"y":3.35},{"b":"b34","v":5,"x":197.2,"y":3.78},{"b":"b34","v":5,"x":198,"y":4.22},{"b":"b34","v":5,"x":199.95,"y":3.93},{"b":"b34","v":5,"x":202,"y":3.96},{"b":"b34","v":5,"x":203.7,"y":3.71},{"b":"b34","v":5,"x":204.7,"y":3.27},{"b":"b34","v":5,"x":207.75,"y":3.13},{"b":"b34","v":5,"x":210.75,"y":3.13},{"b":"b34","v":5,"x":212.6,"y":3.03},{"b":"b34","v":5,"x":212.5,"y":2.84},{"b":"b34","v":5,"x":210,"y":2.55},{"b":"b34","v":5,"x":207.5,"y":2.62},{"b":"b34","v":5,"x":204.2,"y":2.94},{"b":"b34","v":5,"x":202,"y":3.2},{"b":"b34","v":5,"x":199.45,"y":2.94},{"b":"b34","v":5,"x":198.7,"y":2.91},{"b":"b34","v":5,"x":198.2,"y":2.98},
{"b":"b35","v":5,"x":237.9,"y":4.99},{"b":"b35","v":5,"x":238.3,"y":4.07},{"b":"b35","v":5,"x":238,"y":3.32},{"b":"b35","v":5,"x":237.3,"y":3.93},{"b":"b35","v":5,"x":237.3,"y":4.51},
{"b":"b36","v":6,"x":179.5,"y":5.26},{"b":"b36","v":6,"x":182.2,"y":5.09},{"b":"b36","v":6,"x":188.2,"y":5.09},{"b":"b36","v":6,"x":188.45,"y":4.65},{"b":"b36","v":6,"x":187.95,"y":4.15},{"b":"b36","v":6,"x":185.7,"y":3.64},{"b":"b36","v":6,"x":182.45,"y":3.78},{"b":"b36","v":6,"x":179.5,"y":4.12},
{"b":"b37","v":6,"x":197.7,"y":8.3},{"b":"b37","v":6,"x":197.75,"y":7.42},{"b":"b37","v":6,"x":197.95,"y":6.9},{"b":"b37","v":6,"x":198.2,"y":7.42},{"b":"b37","v":6,"x":198.2,"y":8.3},
{"b":"b38","v":6,"x":197.75,"y":3.56},{"b":"b38","v":6,"x":198,"y":4},{"b":"b38","v":6,"x":200.2,"y":3.56},{"b":"b38","v":6,"x":202,"y":3.71},{"b":"b38","v":6,"x":203.7,"y":3.42},{"b":"b38","v":6,"x":204.7,"y":3.2},{"b":"b38","v":6,"x":208.2,"y":3.05},{"b":"b38","v":6,"x":210.75,"y":2.88},{"b":"b38","v":6,"x":209.5,"y":2.69},{"b":"b38","v":6,"x":207.2,"y":2.76},{"b":"b38","v":6,"x":204.2,"y":3.05},{"b":"b38","v":6,"x":202,"y":3.23},{"b":"b38","v":6,"x":200.2,"y":3.08},{"b":"b38","v":6,"x":198.7,"y":3.2},
{"b":"b39","v":7,"x":180.4,"y":4.51},{"b":"b39","v":7,"x":181.95,"y":4.76},{"b":"b39","v":7,"x":183.7,"y":4.63},{"b":"b39","v":7,"x":184.9,"y":4.22},{"b":"b39","v":7,"x":184.2,"y":3.9},{"b":"b39","v":7,"x":182.7,"y":3.96},{"b":"b39","v":7,"x":181.2,"y":4.22},
{"b":"b40","v":7,"x":200.75,"y":3.42},{"b":"b40","v":7,"x":202,"y":3.71},{"b":"b40","v":7,"x":202.85,"y":3.42},{"b":"b40","v":7,"x":202,"y":3.23},
{"b":"b41","v":7,"x":205.3,"y":2.98},{"b":"b41","v":7,"x":206,"y":3.16},{"b":"b41","v":7,"x":206.9,"y":2.91},{"b":"b41","v":7,"x":206.1,"y":2.74},
{"b":"b42","v":0,"x":189.95,"y":4},{"b":"b42","v":0,"x":191.95,"y":5.02},{"b":"b42","v":0,"x":193.1,"y":4.51},{"b":"b42","v":0,"x":192.2,"y":3.85},{"b":"b42","v":0,"x":191.2,"y":3.93},{"b":"b42","v":0,"x":190.2,"y":3.93},
{"b":"b43","v":0,"x":196.1,"y":5.06},{"b":"b43","v":0,"x":197.2,"y":5.31},{"b":"b43","v":0,"x":198.45,"y":5.31},{"b":"b43","v":0,"x":198.75,"y":5.02},{"b":"b43","v":0,"x":198.2,"y":4.87},{"b":"b43","v":0,"x":196.7,"y":4.87},
{"b":"b44","v":0,"x":202,"y":7.01},{"b":"b44","v":0,"x":202.4,"y":5.24},{"b":"b44","v":0,"x":202,"y":4.97},{"b":"b44","v":0,"x":201.6,"y":5.24},
{"b":"b45","v":0,"x":199.7,"y":2.55},{"b":"b45","v":0,"x":202,"y":2.76},{"b":"b45","v":0,"x":204,"y":2.44},{"b":"b45","v":0,"x":202.5,"y":2.55},{"b":"b45","v":0,"x":201.2,"y":2.5},
{"b":"b46","v":0,"x":229.15,"y":4.44},{"b":"b46","v":0,"x":230,"y":4.99},{"b":"b46","v":0,"x":232.3,"y":4.58},{"b":"b46","v":0,"x":233.3,"y":4.07},{"b":"b46","v":0,"x":232,"y":3.64},{"b":"b46","v":0,"x":230,"y":3.93}
]},"transform":[{"window":[{"op":"row_number","as":"i"}]}],"resolve":{"axis":{"x":"independent","y":"independent"}},"layer":[{"mark":{"type":"line","interpolate":"catmull-rom-closed","strokeWidth":0,"clip":true},"encoding":{"x":{"field":"x","type":"quantitative","scale":{"domain":[180,242],"nice":false},"axis":{"title":"Date of 2019","values":[180,190,200,210,220,230,240],"format":"d","titlePadding":4}},"y":{"field":"y","type":"quantitative","scale":{"domain":[0,8],"nice":false},"axis":{"title":"Period(days)","values":[0,2,4,6,8],"titlePadding":3}},"detail":{"field":"b"},"order":{"field":"i","type":"quantitative"},"fill":{"condition":{"test":"datum.v===0","value":"white"},"field":"v","type":"quantitative","scale":{"domain":[2,3,4,5,6,7,8],"range":["#3c27a6","#4658f6","#2794e8","#17bfb5","#82cc55","#fdb72e","#fbfb10"]},"legend":{"orient":"none","legendX":831,"legendY":-22,"title":"K","titleFontSize":15,"titleFontWeight":"normal","titleColor":"#444444","titlePadding":7,"gradientLength":184,"gradientThickness":12,"gradientStrokeColor":"#666666","gradientStrokeWidth":0.5,"values":[2,4,6,8],"labelFontSize":20,"labelColor":"#444444","labelOffset":6,"labelOverlap":false,"encode":{"labels":{"update":{"baseline":{"value":"middle"}}}}}}}},{"mark":{"type":"line","opacity":0,"strokeWidth":0},"encoding":{"x":{"field":"x","type":"quantitative","scale":{"domain":[180,242],"nice":false},"axis":{"orient":"top","title":null,"labels":false,"values":[180,190,200,210,220,230,240]}},"y":{"field":"y","type":"quantitative","scale":{"domain":[0,8],"nice":false},"axis":{"orient":"right","title":null,"labels":false,"values":[0,2,4,6,8]}},"detail":{"field":"b"}}}]}]}
